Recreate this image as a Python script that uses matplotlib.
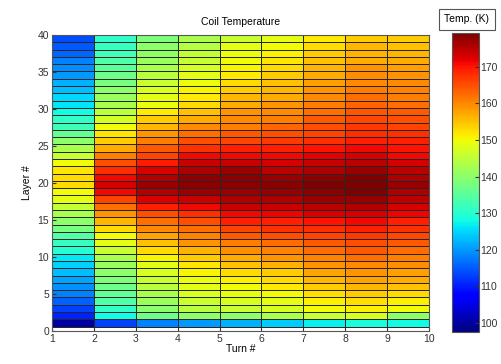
import numpy as np
import matplotlib
matplotlib.use('Agg')
import matplotlib.pyplot as plt

plt.rcParams['font.family'] = ['Liberation Sans', 'DejaVu Sans']

# turn columns, layer rows (bottom -> top), temperatures in K
turns = [1, 2, 3, 4, 5, 6, 7, 8, 9, 10]
col1 = [100, 110.5, 113, 115.5, 118, 119.5, 121, 123, 124.5, 126.5, 130, 131.5, 134, 138, 140, 143, 145.5, 148.6, 150, 153,
        153, 152, 150, 146, 143, 140, 136, 132, 131, 128, 126, 125, 123, 122, 120, 119, 118, 116, 115, 114]
col2 = [113, 128, 131, 134, 135.5, 137, 138.5, 140, 141.5, 143, 146, 148.6, 150, 153, 156, 159, 162, 166, 171, 173,
        171, 168, 165, 161, 157, 154, 152, 150, 147, 144.5, 143, 141.5, 140, 138, 137, 135, 134, 132.5, 131.5, 131]
col3 = [118, 137, 140, 141.5, 143, 144.5, 146, 147.5, 148.6, 150.5, 153, 155, 157.5, 160, 162, 165, 169, 172.5, 175.5, 177,
        175.5, 172.5, 169.5, 166, 164, 161, 159, 156, 154, 151.5, 149.5, 148.6, 147.5, 146, 144.5, 143, 141.5, 140.5, 140, 138.5]
col4 = [120, 140, 144.5, 146, 147.5, 148.6, 149.5, 150.5, 152, 154, 156.5, 159, 160.5, 162, 165, 167.5, 171, 174, 177, 178,
        178, 176, 174, 171, 167.5, 165, 162, 160, 157, 155, 153, 151.5, 150.5, 149.5, 148.6, 147, 146, 145.5, 144, 143]
col5 = [122, 140, 146, 147.5, 149, 150, 151, 153, 155, 157, 159.5, 161, 164, 166, 169, 171, 174, 176, 177, 178,
        178, 177, 174, 171, 169, 166, 164, 161, 160, 159, 157, 156, 154, 153, 151.5, 150.5, 150, 149.5, 148.6, 146]
col6 = [124, 143, 147.5, 148.6, 150, 151.5, 153, 154, 156.5, 159, 160.5, 162.5, 165, 167.5, 169, 171.5, 174, 176, 177.5, 178,
        177, 175, 173, 171, 169, 167, 165, 163, 161, 160, 159, 157, 156, 155, 154, 153, 152, 151, 150, 148.6]
col7 = [127, 146, 150, 151, 152.5, 154, 156, 157.5, 159, 160.5, 162.5, 164, 166, 168, 170, 173, 175, 177, 178, 179,
        178, 176, 174, 172, 170, 168, 166, 165, 164, 162, 161, 160, 159, 158, 157, 156, 155, 154, 153, 151.5]
col8 = [128.5, 147.5, 151, 152.5, 154, 156, 157.5, 159, 160, 162, 164, 165, 167, 169, 171, 173, 175.5, 177.5, 179, 179.2,
        179, 177, 175, 173, 171, 169, 168, 167, 165.5, 164.5, 163, 162.5, 161, 160, 159.5, 159, 157, 156.5, 156, 154]
col9 = [128, 140, 150, 151, 153, 155, 157, 158, 159.5, 161, 162.5, 164, 165.5, 167.5, 169, 171.5, 173, 175, 176, 177,
        176, 175, 173, 171, 170, 169, 167.5, 166, 165, 164, 162, 161, 160.5, 160, 159, 158, 157, 156, 155, 154]

temps = np.array([col1, col2, col3, col4, col5, col6, col7, col8, col9]).T
layer_edges = np.linspace(0.6, 40, temps.shape[0] + 1)

fig = plt.figure(figsize=(5.02, 3.64), dpi=100)
ax = fig.add_axes([0.1036, 0.0907, 0.751, 0.813])
mesh = ax.pcolormesh(turns, layer_edges, temps, cmap='jet', vmin=97.5, vmax=179.2,
                     edgecolors=(0.15, 0.15, 0.15), linewidth=0.6)
ax.set_xlim(1, 10)
ax.set_ylim(0, 40)
ax.set_xticks(turns)
ax.set_yticks(range(0, 41, 5))
ax.tick_params(direction='in', labelsize=7.5, colors='#333333', length=3, pad=2)
ax.set_title('Coil Temperature', fontsize=7.5, pad=7)
ax.set_xlabel('Turn #', fontsize=7.5, labelpad=0)
ax.set_ylabel('Layer #', fontsize=7.5, labelpad=4)
for s in ax.spines.values():
    s.set_color('#555555')

cax = fig.add_axes([0.900, 0.088, 0.054, 0.821])
cb = fig.colorbar(mesh, cax=cax)
cb.set_ticks(range(100, 171, 10))
cb.ax.tick_params(direction='in', labelsize=7.5, colors='#333333', length=3, pad=1)
cb.outline.set_edgecolor('#555555')

fig.text(0.93, 0.947, 'Temp. (K)', fontsize=7.5, ha='center', va='center',
         bbox=dict(boxstyle='square,pad=0.5', fc='white', ec='#555555', lw=0.8))

fig.savefig('out.png', dpi=100)
